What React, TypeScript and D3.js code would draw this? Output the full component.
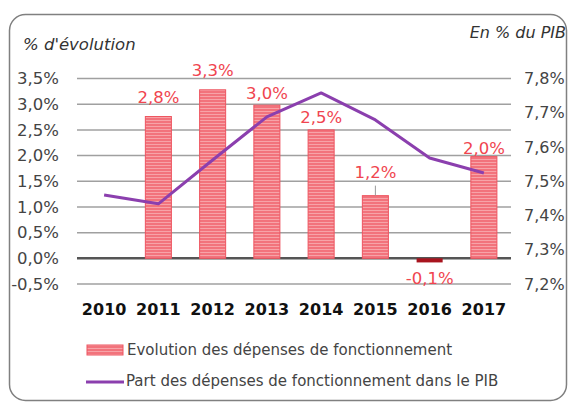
import React from 'react';
import * as d3 from 'd3';

// données
const years = ['2010', '2011', '2012', '2013', '2014', '2015', '2016', '2017'];
const evolution: (number | null)[] = [null, 2.76, 3.28, 2.98, 2.5, 1.22, -0.08, 1.98];
const partPib = [7.46, 7.434, 7.562, 7.688, 7.758, 7.679, 7.568, 7.524];
const leftTicks = [-0.5, 0, 0.5, 1, 1.5, 2, 2.5, 3, 3.5];
const rightTicks = [7.2, 7.3, 7.4, 7.5, 7.6, 7.7, 7.8];
const legendLabels = [
  'Evolution des dépenses de fonctionnement',
  'Part des dépenses de fonctionnement dans le PIB',
];

// placement des étiquettes (écart au sommet de la barre, négatif = dessous)
const labelGap: Record<string, number> = {
  '2011': 14, '2012': 14, '2013': 6, '2014': 7, '2015': 18, '2016': -22, '2017': 3,
};

const W = 568;
const H = 403;
const FONT = "'DejaVu Sans', sans-serif";
const fmt = (v: number) => d3.format('.1f')(v).replace('.', ',').replace('−', '-') + '%';

export default function App() {
  const x = d3.scaleBand<string>().domain(years).range([77, 511]).paddingInner(0.52).paddingOuter(0.26);
  const yL = d3.scaleLinear().domain([-0.5, 3.5]).range([284, 78.5]);
  const yR = d3.scaleLinear().domain([7.2, 7.8]).range([284, 78.5]);
  const cx = (d: string) => (x(d) as number) + x.bandwidth() / 2;

  const line = d3.line<number>()
    .x((_, i) => cx(years[i]))
    .y(d => yR(d));

  return (
    <svg width={W} height={H} style={{ position: 'absolute', left: 0, top: 0, background: '#fff' }}>
      <defs>
        <pattern id="stripes" width="4" height="3" patternUnits="userSpaceOnUse">
          <rect width="4" height="3" fill="#f2737c" />
          <rect width="4" height="1" fill="#f7a3a8" />
        </pattern>
      </defs>

      <rect x={9.5} y={14.5} width={557} height={386} rx={16} fill="none" stroke="#808080" strokeWidth={1.5} />

      <text x={23} y={50} fontFamily={FONT} fontStyle="italic" fontSize={16.5} fill="#333">% d'évolution</text>
      <text x={566} y={38} textAnchor="end" fontFamily={FONT} fontStyle="italic" fontSize={16} fill="#333">En % du PIB</text>

      {leftTicks.map(t => (
        <g key={t}>
          <line x1={77} x2={511} y1={yL(t)} y2={yL(t)}
            stroke={t === 0 ? '#555' : '#a0a0a0'} strokeWidth={t === 0 ? 2.5 : 1.5} />
          <text x={59} y={yL(t)} dy="0.35em" textAnchor="end" fontFamily={FONT} fontSize={16.5} fill="#444">{fmt(t)}</text>
        </g>
      ))}
      {rightTicks.map(t => (
        <text key={t} x={524} y={yR(t)} dy="0.35em" fontFamily={FONT} fontSize={16} fill="#444">{fmt(t)}</text>
      ))}

      {years.map((yr, i) => {
        const v = evolution[i];
        if (v == null) return null;
        const top = Math.min(yL(v), yL(0));
        const h = Math.abs(yL(v) - yL(0));
        const neg = v < 0;
        const gap = labelGap[yr] ?? 8;
        return (
          <g key={yr}>
            <rect x={x(yr)} y={top} width={x.bandwidth()} height={Math.max(h, 3)}
              fill={neg ? '#a8141e' : 'url(#stripes)'} stroke={neg ? 'none' : '#ee5560'} strokeWidth={1} />
            {yr === '2015' && (
              <line x1={cx(yr)} x2={cx(yr)} y1={yL(v) - 10} y2={yL(v)} stroke="#999" strokeWidth={1} />
            )}
            <text x={cx(yr)} y={yL(v) - gap} textAnchor="middle" fontFamily={FONT} fontSize={16.5} fill="#f0454f">{fmt(v)}</text>
          </g>
        );
      })}

      <path d={line(partPib) ?? ''} fill="none" stroke="#8b3fae" strokeWidth={3} strokeLinejoin="round" />

      {years.map(yr => (
        <text key={yr} x={cx(yr)} y={315} textAnchor="middle" fontFamily={FONT} fontWeight="bold" fontSize={16} fill="#111">{yr}</text>
      ))}

      <rect x={87} y={345} width={36} height={10} fill="url(#stripes)" stroke="#ee5560" strokeWidth={1} />
      <text x={127} y={355} fontFamily={FONT} fontSize={15} fill="#444">{legendLabels[0]}</text>
      <line x1={86} x2={124} y1={382} y2={382} stroke="#8b3fae" strokeWidth={3} />
      <text x={126} y={386} fontFamily={FONT} fontSize={15} fill="#444">{legendLabels[1]}</text>
    </svg>
  );
}
